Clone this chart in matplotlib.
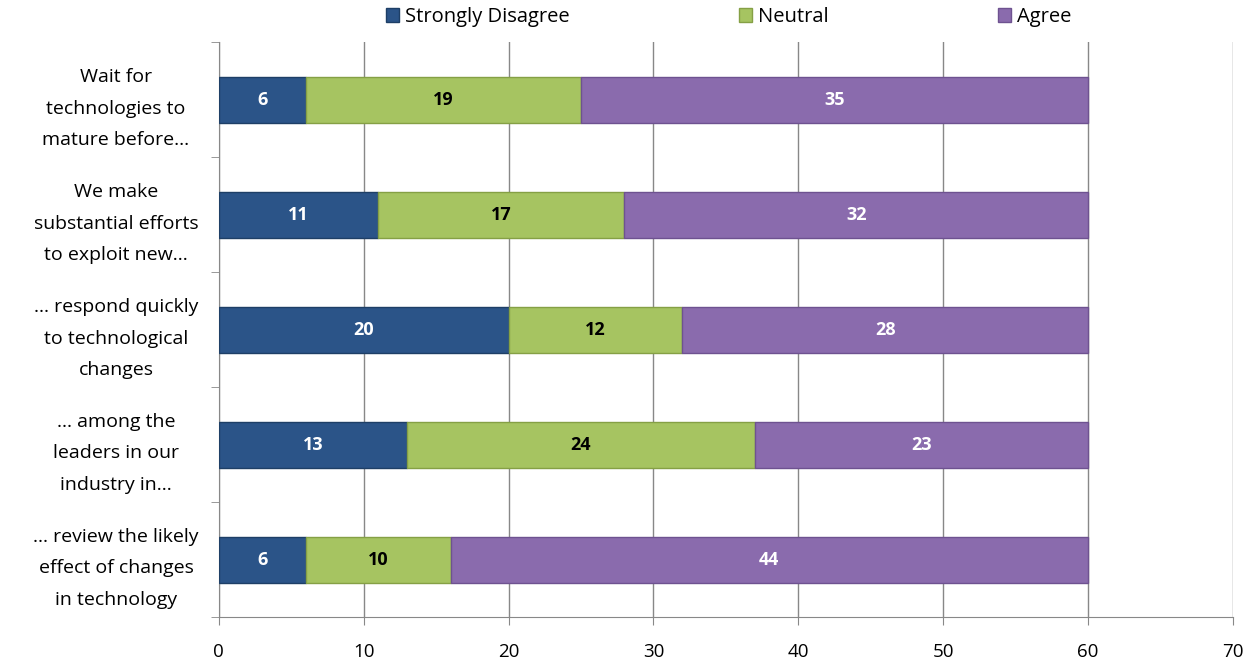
import matplotlib.pyplot as plt
import numpy as np

categories = [
    "Wait for\ntechnologies to\nmature before...",
    "We make\nsubstantial efforts\nto exploit new...",
    "... respond quickly\nto technological\nchanges",
    "... among the\nleaders in our\nindustry in...",
    "... review the likely\neffect of changes\nin technology",
]
strongly_disagree = [6, 11, 20, 13, 6]
neutral = [19, 17, 12, 24, 10]
agree = [35, 32, 28, 23, 44]

series_names = ["Strongly Disagree", "Neutral", "Agree"]
colors = ["#2B5488", "#A6C461", "#8A6BAD"]
text_colors = ["white", "black", "white"]
edge_colors = ["#1E3F66", "#85A045", "#6E5290"]

plt.rcParams['font.family'] = ['Open Sans', 'DejaVu Sans']

fig = plt.figure(figsize=(12.5, 6.62), dpi=100)
ax = fig.add_axes([0.175, 0.068, 0.8114, 0.868])

y = np.arange(len(categories))
left = np.zeros(len(categories))
handles = []
for vals, name, c, tc, ec in zip([strongly_disagree, neutral, agree], series_names,
                                 colors, text_colors, edge_colors):
    vals = np.array(vals)
    bars = ax.barh(y, vals, left=left, height=0.4, color=c, edgecolor=ec,
                   linewidth=1.0, label=name, zorder=3)
    handles.append(bars)
    for yi, l, v in zip(y, left, vals):
        ax.text(l + v / 2, yi, str(v), ha='center', va='center', color=tc,
                fontsize=13, fontweight='bold', zorder=4)
    left = left + vals

ax.set_xlim(0, 70)
ax.set_ylim(len(categories) - 0.5, -0.5)
ax.set_xticks(np.arange(0, 71, 10))
ax.set_yticks(y)
ax.set_yticklabels(categories, ha='center', linespacing=1.98)
ax.tick_params(axis='y', length=0, pad=74, labelsize=14)
ax.set_yticks(np.arange(-0.5, len(categories), 1), minor=True)
ax.tick_params(axis='y', which='minor', length=6, color='#888888')
ax.tick_params(axis='x', length=6, color='#888888', labelsize=13.5, pad=13)

ax.grid(axis='x', color='#888888', linewidth=1, zorder=0)
for s in ['top', 'right']:
    ax.spines[s].set_visible(False)
for s in ['left', 'bottom']:
    ax.spines[s].set_color('#888888')

fig.legend(handles=handles, labels=series_names, loc='upper center',
           bbox_to_anchor=(0.583, 1.017), ncol=3, frameon=False, fontsize=14.5,
           handlelength=0.65, handleheight=0.65, columnspacing=8.4,
           handletextpad=0.3)

fig.savefig('out.png', dpi=100)
